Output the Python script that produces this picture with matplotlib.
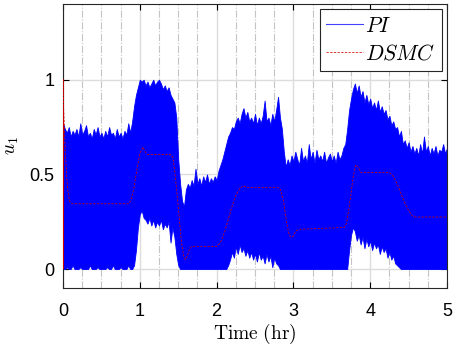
import numpy as np
import matplotlib.pyplot as plt
from matplotlib.lines import Line2D
from matplotlib.ticker import MultipleLocator

plt.rcParams['mathtext.fontset'] = 'cm'
plt.rcParams['font.family'] = 'Liberation Sans'

# PI control signal: upper / lower envelope of the fast switching, sampled every 0.025 hr
t_pi = np.arange(201) * 0.025
pi_upper = (
    [0.77, 0.74, 0.72, 0.75, 0.70, 0.73, 0.71, 0.74, 0.70, 0.77, 0.71, 0.73,
     0.76, 0.70, 0.72, 0.69, 0.74, 0.71, 0.75, 0.70, 0.72, 0.69, 0.73, 0.70,
     0.75, 0.71, 0.72, 0.69, 0.74, 0.70, 0.72, 0.69, 0.73, 0.71, 0.77, 0.72]
    + [0.78, 0.86, 0.92, 0.96, 1.00, 0.99, 1.00, 0.97, 0.99, 0.96, 0.98, 1.00,
       0.97, 0.99, 1.00, 0.98, 0.95, 0.97, 0.94, 0.96, 0.92, 0.90, 0.88, 0.80]
    + [0.58, 0.45, 0.36, 0.33, 0.42, 0.45, 0.43, 0.47, 0.44, 0.53,
       0.45, 0.48, 0.44, 0.49, 0.46, 0.50, 0.45, 0.48, 0.46, 0.49]
    + [0.47, 0.52, 0.55, 0.58, 0.62, 0.66, 0.70, 0.72, 0.75, 0.74,
       0.78, 0.80, 0.77, 0.82, 0.85, 0.80, 0.83, 0.78, 0.80, 0.77]
    + [0.82, 0.76, 0.80, 0.77, 0.81, 0.89, 0.78, 0.80, 0.76, 0.82,
       0.78, 0.84, 0.91, 0.80, 0.74, 0.62, 0.54, 0.58, 0.55, 0.60]
    + [0.57, 0.62, 0.58, 0.55, 0.64, 0.57, 0.60, 0.56, 0.66, 0.58,
       0.62, 0.56, 0.63, 0.58, 0.60, 0.57, 0.62, 0.56, 0.59, 0.61]
    + [0.57, 0.60, 0.56, 0.62, 0.58, 0.60, 0.64, 0.66, 0.74, 0.84,
       0.90, 0.95, 0.98, 0.93, 0.97, 0.91, 0.94, 0.88, 0.92, 0.87]
    + [0.90, 0.85, 0.88, 0.84, 0.89, 0.83, 0.86, 0.82, 0.84, 0.79,
       0.81, 0.76, 0.78, 0.74, 0.75, 0.70, 0.73, 0.66, 0.68, 0.64]
    + [0.67, 0.62, 0.65, 0.61, 0.64, 0.60, 0.66, 0.61, 0.70, 0.62, 0.65,
       0.60, 0.64, 0.61, 0.65, 0.60, 0.63, 0.62, 0.66, 0.61, 0.64]
)
pi_lower = (
    [0.0, 0.0, 0.01, 0.0, 0.0, 0.02, 0.0, 0.0, 0.0, 0.01, 0.0, 0.0,
     0.0, 0.0, 0.02, 0.0, 0.0, 0.0, 0.01, 0.0, 0.0, 0.0, 0.0, 0.01,
     0.0, 0.0, 0.02, 0.0, 0.0, 0.0, 0.01, 0.0, 0.0, 0.0, 0.02, 0.0]
    + [0.0, 0.02, 0.10, 0.22, 0.29, 0.31, 0.27, 0.26, 0.24, 0.27, 0.23, 0.26,
       0.22, 0.25, 0.23, 0.26, 0.21, 0.24, 0.22, 0.25, 0.14, 0.22, 0.17, 0.08]
    + [0.02] + [0.0] * 19
    + [0.0] * 6 + [0.02, 0.05, 0.09, 0.06, 0.12, 0.08, 0.13,
                   0.09, 0.11, 0.07, 0.10, 0.06, 0.09, 0.05]
    + [0.08, 0.04, 0.09, 0.05, 0.07, 0.03, 0.08, 0.04, 0.07, 0.01,
       0.06, 0.03, 0.02] + [0.0] * 7
    + [0.0] * 20
    + [0.0] * 9 + [0.10, 0.18, 0.22, 0.20, 0.15, 0.18, 0.13, 0.17, 0.11, 0.16, 0.12]
    + [0.15, 0.10, 0.14, 0.11, 0.13, 0.08, 0.12, 0.09, 0.11, 0.06,
       0.09, 0.05, 0.07, 0.03, 0.02, 0.01, 0.0, 0.0, 0.0, 0.0]
    + [0.0] * 21
)

# DSMC control signal
t_dsmc = [0.0, 0.002, 0.004, 0.006, 0.008, 0.03, 0.05, 0.07, 0.09, 0.12,
          0.85, 0.88, 0.92, 0.96, 1.00, 1.04, 1.07, 1.10, 1.40, 1.43,
          1.46, 1.50, 1.54, 1.57, 1.59, 1.62, 1.65, 1.68, 2.00, 2.05,
          2.10, 2.15, 2.20, 2.25, 2.30, 2.35, 2.40, 2.80, 2.83, 2.87,
          2.91, 2.94, 2.96, 2.99, 3.03, 3.07, 3.66, 3.69, 3.72, 3.75,
          3.78, 3.81, 3.84, 3.88, 4.25, 4.30, 4.35, 4.40, 4.45, 4.50,
          4.55, 4.58, 5.00]
u_dsmc = [1.0, 0.0, 1.0, 0.0, 0.85, 0.62, 0.47, 0.39, 0.355, 0.345,
          0.345, 0.36, 0.42, 0.52, 0.61, 0.645, 0.62, 0.605, 0.605, 0.59,
          0.50, 0.33, 0.15, 0.07, 0.05, 0.07, 0.11, 0.12, 0.12, 0.14,
          0.19, 0.26, 0.33, 0.39, 0.425, 0.44, 0.43, 0.43, 0.42, 0.36,
          0.25, 0.19, 0.17, 0.17, 0.20, 0.21, 0.22, 0.24, 0.31, 0.40,
          0.49, 0.55, 0.54, 0.51, 0.51, 0.49, 0.45, 0.40, 0.35, 0.31,
          0.28, 0.275, 0.275]

fig = plt.figure(figsize=(4.54, 3.54), dpi=100)
ax = fig.add_axes([0.1388, 0.1864, 0.8458, 0.8023])

ax.fill_between(t_pi, pi_lower, pi_upper, color='b', linewidth=0.6, zorder=2)
dsmc_line, = ax.plot(t_dsmc, u_dsmc, color='#d00000', linestyle='--',
                     dashes=(3.0, 1.8), linewidth=0.55, zorder=3)

ax.set_xlim(0, 5)
ax.set_ylim(-0.1, 1.4)
ax.set_xticks([0, 1, 2, 3, 4, 5])
ax.set_yticks([0, 0.5, 1])
ax.set_yticklabels(['0', '0.5', '1'])
ax.xaxis.set_minor_locator(MultipleLocator(0.25))

ax.grid(which='major', axis='both', color='#dcdcdc', linewidth=1.0, zorder=0)
ax.grid(which='minor', axis='x', color='#c4c4c4', linestyle='-.',
        linewidth=0.8, zorder=0)
ax.set_axisbelow(True)

ax.tick_params(which='major', direction='in', length=4, width=0.8,
               top=True, right=True, labelsize=13)
ax.tick_params(axis='x', pad=11)
ax.tick_params(axis='y', pad=6)
ax.tick_params(which='minor', length=0)
for s in ax.spines.values():
    s.set_linewidth(0.8)
    s.set_color('#262626')

ax.set_xlabel(r'$\mathrm{Time\ (hr)}$', fontsize=14, labelpad=1)
ax.set_ylabel(r'$u_1$', fontsize=14, labelpad=6)

pi_handle = Line2D([], [], color='#4040ff', linewidth=0.8)
leg = ax.legend([pi_handle, dsmc_line], [r'$PI$', r'$DSMC$'],
                loc='upper right', fontsize=15.5, frameon=True, fancybox=False,
                framealpha=1, edgecolor='#262626', handlelength=1.7,
                handletextpad=0.1, labelspacing=0.3, borderpad=0.3,
                borderaxespad=0.25)
leg.get_frame().set_linewidth(0.8)

fig.savefig('out.png', dpi=100)
